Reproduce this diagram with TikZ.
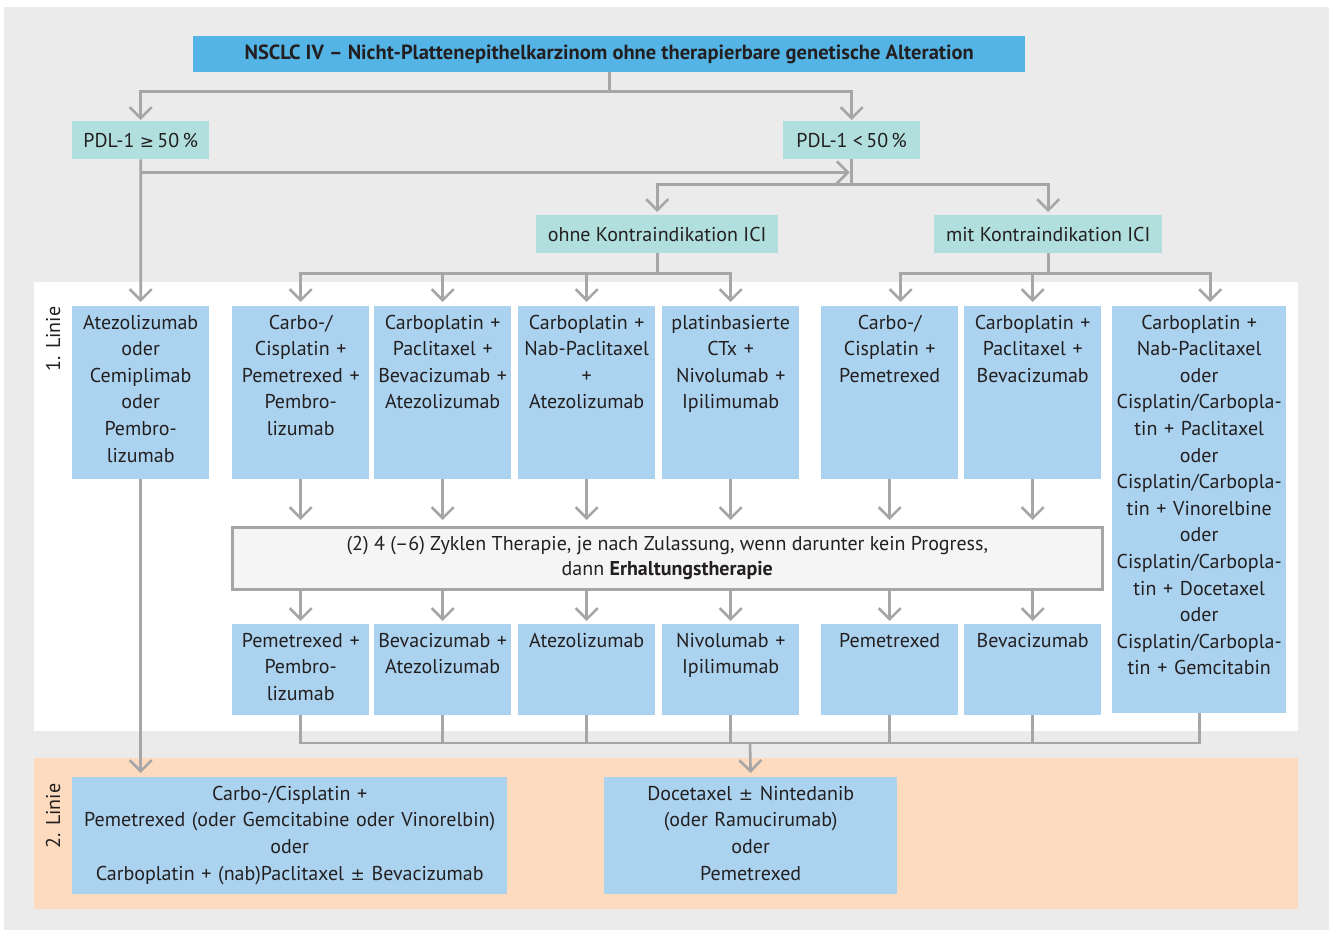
\documentclass[tikz,border=0pt]{standalone}
\usepackage{fontspec}
\setmainfont{PT Sans}
\newfontfamily\symf{DejaVu Sans}[Scale=0.85]
\usetikzlibrary{arrows.meta}

\definecolor{panelgrey}{HTML}{EAEBEA}
\definecolor{titleblue}{HTML}{55B4E6}
\definecolor{teal}{HTML}{B1DFDD}
\definecolor{cellblue}{HTML}{ABD3EF}
\definecolor{peach}{HTML}{FEDBBE}
\definecolor{noteback}{HTML}{F5F5F5}
\definecolor{wire}{HTML}{A6A6A8}
\definecolor{ink}{HTML}{231F20}

\hyphenpenalty=10000
\exhyphenpenalty=10000

\begin{document}
\begin{tikzpicture}[x=1pt,y=-1pt,
  font=\fontsize{20}{26.6}\selectfont, text=ink,
  conn/.style={draw=wire, line width=2.6pt},
  arr/.style={conn, -{Straight Barb[length=11pt,width=22pt]}, shorten >=4pt},
  % text set at the top of a filled box
  cell/.style={anchor=north west, fill=cellblue, inner ysep=0pt, inner xsep=-10pt,
    align=center, text height=23pt},
  topcell/.style={cell, text width=157pt, text depth=150pt},
  lowcell/.style={cell, text width=157pt, text depth=68pt},
  tag/.style={anchor=north west, fill=teal, inner sep=0pt, minimum height=38pt},
  side/.style={rotate=90, inner sep=0pt}
]
\useasboundingbox (0,0) rectangle (1333,933);
\fill[white] (0,0) rectangle (1333,933);

% panels
\fill[panelgrey] (4,7) rectangle (1329,930);
\fill[white] (34,282) rectangle (1298,731);
\fill[peach] (34,758) rectangle (1298,909);

\node[side] (lineone) at (53,339) {1. Linie};
\node[side] (linetwo) at (53,816) {2. Linie};

% header and decision levels
\node[anchor=north west, fill=titleblue, inner sep=0pt, minimum width=832pt,
  minimum height=36pt, font=\fontsize{20.5}{24}\selectfont\bfseries] (title) at (193,36)
  {NSCLC IV – Nicht-Plattenepithelkarzinom ohne therapierbare genetische Alteration};

\node[tag, minimum width=137pt] (pdlhi) at (72,121) {PDL-1 {\symf≥}\,50\,\%};
\node[tag, minimum width=137pt] (pdllo) at (783,121) {PDL-1 <\,50\,\%};
\node[tag, minimum width=242pt] (ohne) at (536,215) {ohne Kontraindikation ICI};
\node[tag, minimum width=228pt] (mit) at (934,215) {mit Kontraindikation ICI};

% first-line regimens
\node[topcell] (atezo) at (72,306) {Atezolizumab\\oder\\Cemiplimab\\oder\\Pembro-\\lizumab};
\node[topcell] (ca) at (232,306) {Carbo-/\\Cisplatin +\\Pemetrexed +\\Pembro-\\lizumab};
\node[topcell] (cb) at (374,306) {Carboplatin +\\Paclitaxel +\\Bevacizumab +\\Atezolizumab};
\node[topcell] (cc) at (518,306) {Carboplatin +\\Nab-Paclitaxel\\+\\Atezolizumab};
\node[topcell] (cd) at (662,306) {platinbasierte\\CTx +\\Nivolumab +\\Ipilimumab};
\node[topcell] (ce) at (821,306) {Carbo-/\\Cisplatin +\\Pemetrexed};
\node[topcell] (cf) at (964,306) {Carboplatin +\\Paclitaxel +\\Bevacizumab};
\node[cell, text width=194pt, text depth=384pt] (cg) at (1112,306)
  {Carboplatin +\\Nab-Paclitaxel\\oder\\Cisplatin/Carbopla-\\tin + Paclitaxel\\oder\\Cisplatin/Carbopla-\\tin + Vinorelbine\\oder\\Cisplatin/Carbopla-\\tin + Docetaxel\\oder\\Cisplatin/Carbopla-\\tin + Gemcitabin};

% induction note
\node[anchor=north west, fill=noteback, draw=wire, line width=2.6pt, inner sep=0pt,
  minimum width=870pt, minimum height=62pt, align=center,
  font=\fontsize{20}{25}\selectfont] (note) at (231,526)
  {(2) 4 (–6) Zyklen Therapie, je nach Zulassung, wenn darunter kein Progress,\\dann \textbf{Erhaltungstherapie}};

% maintenance
\node[lowcell] (ma) at (232,624) {Pemetrexed +\\Pembro-\\lizumab};
\node[lowcell] (mb) at (374,624) {Bevacizumab +\\Atezolizumab};
\node[lowcell] (mc) at (518,624) {Atezolizumab};
\node[lowcell] (md) at (662,624) {Nivolumab +\\Ipilimumab};
\node[lowcell] (me) at (821,624) {Pemetrexed};
\node[lowcell] (mf) at (964,624) {Bevacizumab};

% second line
\node[cell, text width=455pt, text depth=94pt] (sa) at (72,777)
  {Carbo-/Cisplatin +\\Pemetrexed (oder Gemcitabine oder Vinorelbin)\\oder\\Carboplatin + (nab)Paclitaxel {\symf±} Bevacizumab};
\node[cell, text width=313pt, text depth=94pt] (sb) at (604,777)
  {Docetaxel {\symf±} Nintedanib\\(oder Ramucirumab)\\oder\\Pemetrexed};

% header split
\draw[conn] (title.south) -- ++(0,19) coordinate (tj);
\draw[arr, shorten >=1pt] (tj) -| (pdlhi.north);
\draw[arr, shorten >=1pt] (tj) -| (pdllo.north);

% PDL-1 high
\draw[arr] (pdlhi.south) -- (atezo.north);
\coordinate (hj) at ([yshift=-13pt]pdlhi.south);
\draw[arr, shorten >=2pt] (hj) -- (hj -| pdllo.south);

% PDL-1 low
\draw[conn] (pdllo.south) -- ++(0,25) coordinate (lj);
\draw[arr, shorten >=3pt] (lj) -| (ohne.north);
\draw[arr, shorten >=3pt] (lj) -| (mit.north);

% without contraindication
\draw[conn] (ohne.south) -- ++(0,20) coordinate (oj);
\foreach \c in {ca,cb,cc,cd}
  \draw[arr] (oj) -| (\c.north);

% with contraindication
\draw[conn] (mit.south) -- ++(0,20) coordinate (mj);
\draw[arr] (mj) -| ([xshift=11pt]ce.north);
\draw[arr] (mj) -| (cf.north);
\draw[arr] (mj) -| ([xshift=11pt]cg.north);

% into and out of the induction note
\foreach \c/\m in {ca/ma,cb/mb,cc/mc,cd/md,ce/me,cf/mf}{
  \draw[arr, shorten >=6pt] (\c.south) -- (\c.south |- note.north);
  \draw[arr, shorten >=3pt] (\m.north |- note.south) -- (\m.north);
}

% collecting line towards second line
\coordinate (bj) at (750,743);
\foreach \m in {ma,mb,mc,md,me,mf,cg}
  \draw[conn] (\m.south) |- (bj);
\draw[arr] (bj) -- (sb.north);
\draw[arr] (atezo.south) -- (atezo.south |- sa.north);
\end{tikzpicture}
\end{document}
